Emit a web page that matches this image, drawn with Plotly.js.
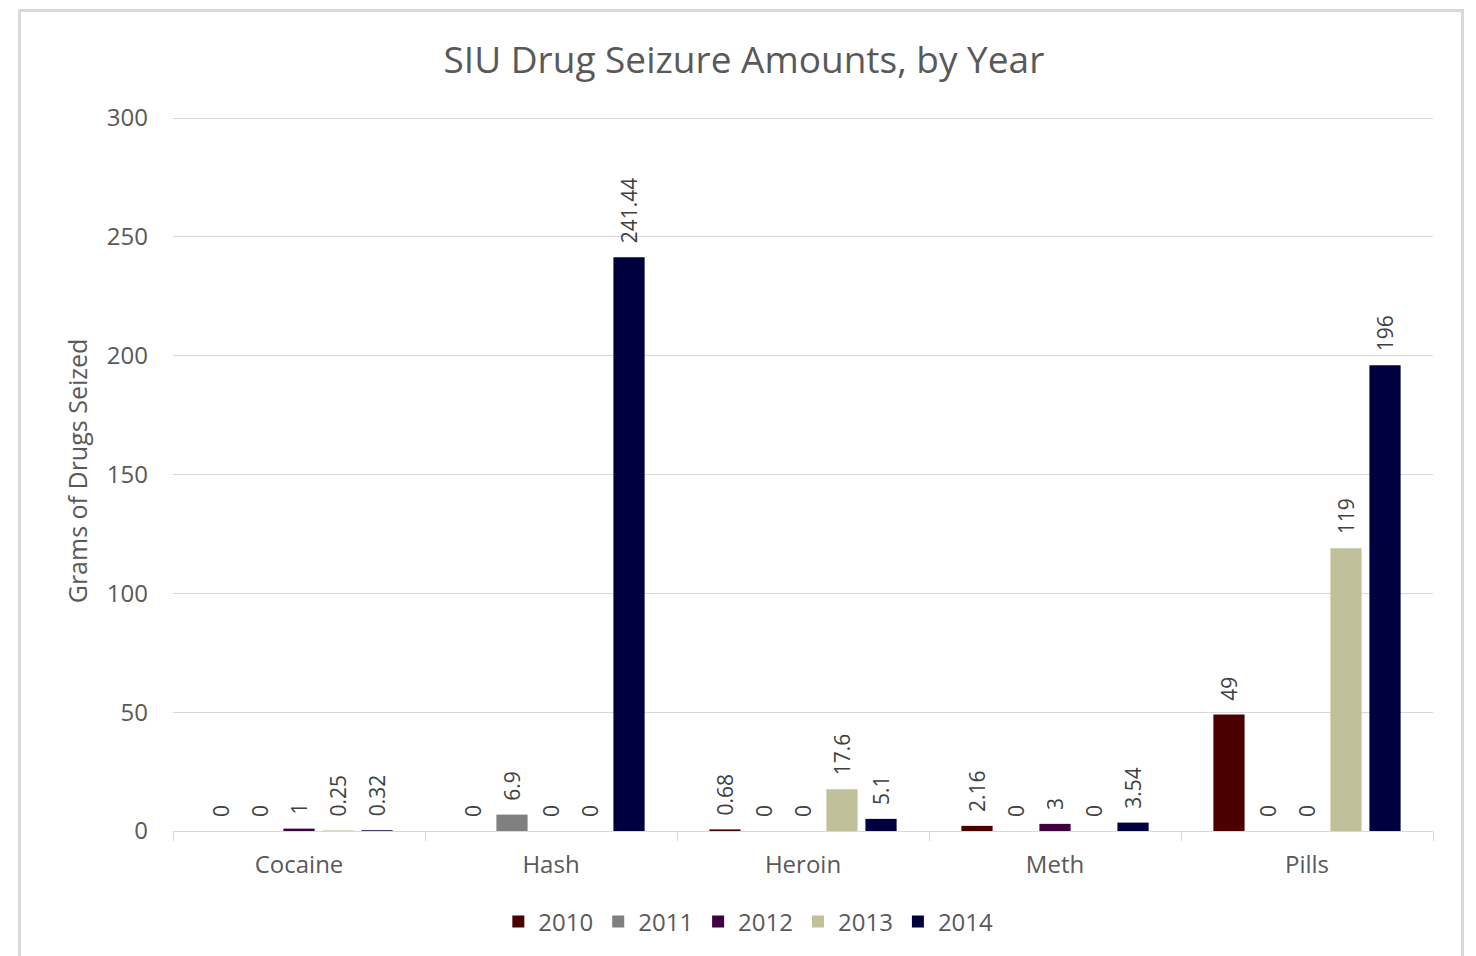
<!DOCTYPE html>
<html><head><meta charset="utf-8">
<script src="https://cdn.plot.ly/plotly-3.0.1.min.js"></script>
<style>
body{margin:0;background:#fff;}
#chart{position:absolute;left:0;top:0;width:1476px;height:956px;}
#frame{position:absolute;left:18px;top:9px;width:1446px;height:960px;border:3px solid #d9d9d9;pointer-events:none;box-sizing:border-box;}
</style></head>
<body>
<div id="chart"></div>
<div id="frame"></div>
<script>
const categories = ["Cocaine","Hash","Heroin","Meth","Pills"];
const years = ["2010","2011","2012","2013","2014"];
const v2010 = [0, 0, 0.68, 2.16, 49];
const v2011 = [0, 6.9, 0, 0, 0];
const v2012 = [1, 0, 0, 3, 0];
const v2013 = [0.25, 0, 17.6, 0, 119];
const v2014 = [0.32, 241.44, 5.1, 3.54, 196];
const colors = ["#4b0000","#808080","#3f0040","#c0c09a","#00003f"];
const series = [v2010, v2011, v2012, v2013, v2014];
const FONT = "Open Sans, sans-serif";

const traces = series.map((vals, i) => ({
  type: "bar",
  name: years[i],
  x: categories,
  y: vals,
  marker: {color: colors[i]},
  text: vals.map(v => "\u00a0\u00a0" + String(v)),
  textposition: "outside",
  textangle: -90,
  constraintext: "none",
  cliponaxis: false,
  textfont: {family: FONT, size: 21, color: "#404040"},
  hoverinfo: "skip"
}));

const layout = {
  width: 1476, height: 956,
  margin: {l: 173, r: 43, t: 111, b: 125},
  paper_bgcolor: "#fff", plot_bgcolor: "#fff",
  barmode: "group",
  bargap: 0.226,
  bargroupgap: 0.2,
  showlegend: true,
  title: {text: "SIU Drug Seizure Amounts, by Year", font: {family: FONT, size: 37, color: "#595959"},
          xref: "container", x: 0.504, xanchor: "center", yref: "container", y: 0.937, yanchor: "middle"},
  font: {family: FONT, color: "#595959"},
  xaxis: {
    type: "category",
    automargin: false,
    tickson: "boundaries",
    ticks: "outside", ticklen: 9, tickcolor: "#d9d9d9", tickwidth: 1,
    showline: true, linecolor: "#d9d9d9", linewidth: 1,
    showgrid: false,
    ticklabelstandoff: 12,
    tickfont: {family: FONT, size: 24, color: "#595959"}
  },
  yaxis: {
    automargin: false,
    range: [0, 302.95], tickvals: [0, 50, 100, 150, 200, 250, 300],
    showgrid: true, gridcolor: "#d9d9d9", gridwidth: 1,
    zeroline: false, showline: false,
    ticks: "", ticklabelstandoff: 24,
    tickfont: {family: FONT, size: 24, color: "#595959"},
    title: {text: "Grams of Drugs Seized", font: {family: FONT, size: 25, color: "#595959"}, standoff: 12}
  },
  legend: {
    orientation: "h", xref: "container", yref: "container",
    x: 0.507, xanchor: "center", y: 0.0356, yanchor: "middle",
    font: {family: FONT, size: 24, color: "#595959"},
    itemwidth: 30, traceorder: "normal"
  }
};

Plotly.newPlot("chart", traces, layout, {displayModeBar: false, staticPlot: true});
</script>
</body></html>
